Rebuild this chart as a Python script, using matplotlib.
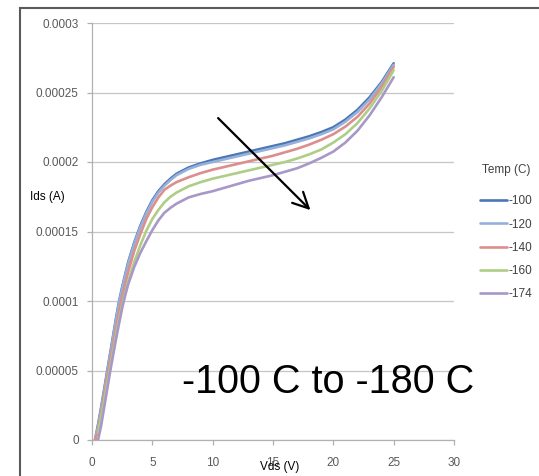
#!/usr/bin/env python3
# Ids vs Vds at low temperature, Excel-style chart

import numpy as np
import matplotlib
import matplotlib.pyplot as plt
from matplotlib.patches import Rectangle
matplotlib.use('Agg')

plt.rcParams['font.family'] = ['Liberation Sans', 'DejaVu Sans']

# Vds (V) sample points
vds = [0.25, 0.5, 0.75, 1.0, 1.25, 1.5, 1.75, 2.0, 2.25, 2.5, 2.75, 3.0,
       3.5, 4.0, 4.5, 5.0, 5.5, 6.0, 6.5, 7.0, 8.0, 9.0, 10, 11, 12, 13,
       14, 15, 16, 17, 18, 19, 20, 21, 22, 23, 24, 25]

# Ids in uA, one list per temperature
ids_m100 = [0, 11, 23, 36, 49, 62, 75, 88, 100, 110, 119, 128,
            142, 154, 164, 172.5, 179, 184, 188, 191.5, 196, 199, 201.5,
            203.5, 205.5, 207.5, 209.5, 211.5, 213.5, 216, 218.5, 221.5,
            225, 230.5, 237.5, 246.5, 257.5, 271]
ids_m120 = [0, 10, 22, 35, 48, 61, 74, 87, 99, 109, 118, 127,
            141, 153, 163, 171.5, 178, 183, 187, 190.5, 195, 198, 200, 202,
            204, 206, 208, 210, 212, 214.5, 217, 220, 223.5, 229,
            236, 245, 256.5, 270]
ids_m140 = [0, 7, 19, 32, 45, 57, 69, 81, 93, 103, 112, 121,
            136, 148, 159, 167.5, 174.5, 180, 183, 185.5, 189, 192, 194.5,
            196.5, 198.5, 200.5, 202.5, 204.5, 207, 209.5, 212.5, 216, 220,
            225.5, 232.5, 242, 254, 268.5]
ids_m160 = [np.nan, 5, 16, 28, 40, 52, 64, 76, 87, 97, 106, 114,
            128, 140, 150.5, 159, 165.5, 171, 175, 178, 182.5, 185.5, 188,
            190, 192, 194, 196, 198, 200, 202.5, 205.5, 209, 214, 220,
            228, 238.5, 251, 266]
ids_m174 = [np.nan, 0, 10, 23, 36, 49, 61, 73, 84, 95, 104, 112,
            124.5, 134.5, 143, 151, 158, 163.5, 167, 170, 174.5, 177, 179,
            181.5, 184, 186.5, 188.5, 190.5, 193, 195.5, 199, 203, 207.5,
            214, 222.5, 233.5, 246.5, 261]

labels = ['-100', '-120', '-140', '-160', '-174']
colors = ['#4a76b5', '#95b1da', '#dc8e8c', '#aece86', '#a898c8']
series = [ids_m100, ids_m120, ids_m140, ids_m160, ids_m174]

yticks = [0, 0.00005, 0.0001, 0.00015, 0.0002, 0.00025, 0.0003]
ytick_labels = ['0', '0.00005', '0.0001', '0.00015', '0.0002', '0.00025',
                '0.0003']
xticks = [0, 5, 10, 15, 20, 25, 30]

W, H = 539, 476
fig = plt.figure(figsize=(W / 100, H / 100), dpi=100)
ax = fig.add_axes([92 / W, 1 - 440 / H, (454 - 92) / W, (440 - 23) / H])

x = np.array(vds)
for ids, lab, col in zip(series, labels, colors):
    ax.plot(x, np.array(ids) * 1e-6, color=col, lw=1.9, label=lab,
            solid_capstyle='round', solid_joinstyle='round', zorder=3)

ax.set_xlim(0, 30)
ax.set_ylim(0, 0.0003)
ax.set_xticks(xticks)
ax.set_yticks(yticks)
ax.set_yticklabels(ytick_labels)

# Grid
ax.grid(which='major', axis='y', color='#c6c6c6', lw=0.9, zorder=0)
ax.spines['right'].set_visible(False)
ax.spines['top'].set_visible(False)
for s in ('left', 'bottom'):
    ax.spines[s].set_color('#b0b0b0')
    ax.spines[s].set_linewidth(0.9)
ax.tick_params(axis='both', colors='#b0b0b0', labelcolor='#595959',
               labelsize=8.5, length=3.5, width=0.9)
ax.tick_params(axis='x', pad=9)
ax.tick_params(axis='y', pad=6)

# Arrow and annotation
ax.annotate('', xy=(18.1, 0.0001654), xytext=(10.45, 0.0002316),
            arrowprops=dict(arrowstyle='->', lw=1.6, color='black',
                            mutation_scale=28, shrinkA=0, shrinkB=0))
ax.text(7.5, 0.0000338, '-100 C to -180 C', fontsize=28.5,
        ha='left', va='baseline', color='black')

# Axis titles
fig.text(30 / W, 1 - 197 / H, 'Ids (A)', fontsize=8.5, ha='left',
         va='center')
fig.text(280 / W, 1 - 467 / H, 'Vds (V)', fontsize=8.5, ha='center',
         va='center')

# Legend
leg = ax.legend(title='Temp (C)', loc='upper left',
                bbox_to_anchor=(474 / W, 1 - 158 / H),
                bbox_transform=fig.transFigure, frameon=False,
                fontsize=8.5, title_fontsize=8.5, handlelength=2.3,
                handletextpad=0.1, labelspacing=0.95, borderpad=0)
for t in leg.get_texts():
    t.set_color('#404040')
leg.get_title().set_color('#404040')
leg._legend_box.sep = 14

# Outer chart border
fig.add_artist(Rectangle((20 / W, -0.1), 1.0, (H - 8) / H + 0.1,
                         transform=fig.transFigure, fill=False, lw=1.5,
                         ec='#5a5a5a'))

plt.savefig('out.png', dpi=100)
